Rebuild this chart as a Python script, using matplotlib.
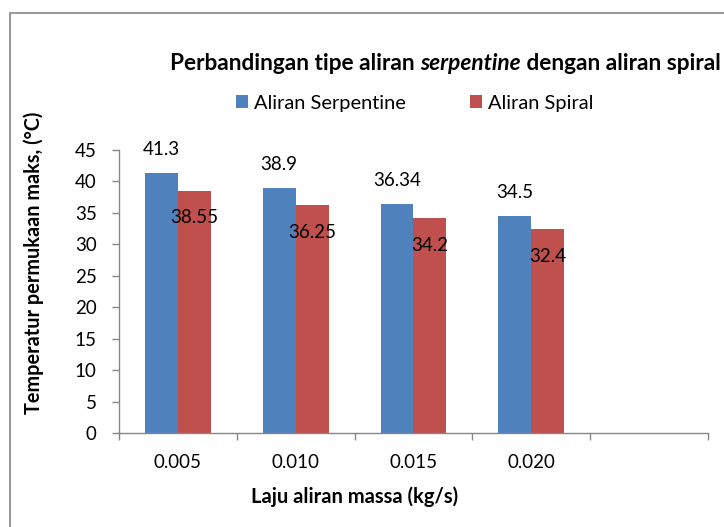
import matplotlib.pyplot as plt
from matplotlib.patches import Rectangle
import numpy as np

# data
kategori = ["0.005", "0.010", "0.015", "0.020", ""]
serpentine = [41.3, 38.9, 36.34, 34.5]
spiral = [38.55, 36.25, 34.2, 32.4]
yticks = [0, 5, 10, 15, 20, 25, 30, 35, 40, 45]

biru = "#4F81BD"
merah = "#C0504D"
abu = "#868686"

plt.rcParams['font.family'] = ['Lato', 'DejaVu Sans']

W, H = 724, 527
fig = plt.figure(figsize=(W / 100, H / 100), dpi=100)

def fx(px):
    return px / W

def fy(py):
    return 1 - py / H

# border around chart area
fig.patches.append(Rectangle((fx(9.5), fy(540)), 1.0, fy(13) - fy(540),
                             transform=fig.transFigure, fill=False,
                             edgecolor=abu, linewidth=1.2))

ax = fig.add_axes([fx(119), fy(433), fx(708) - fx(119), fy(150) - fy(433)])

x = np.arange(len(serpentine))
w = 0.28
ax.bar(x - w / 2, serpentine, w, color=biru, label="Aliran Serpentine")
ax.bar(x + w / 2, spiral, w, color=merah, label="Aliran Spiral")

fs = 13.5
for xi, v in zip(x - w / 2, serpentine):
    ax.annotate(f"{v:g}", (xi, v), xytext=(0, 17), textcoords="offset points",
                ha="center", va="center", fontsize=fs)
for xi, v in zip(x + w / 2, spiral):
    ax.annotate(f"{v:g}", (xi, v), xytext=(0, -19.5), textcoords="offset points",
                ha="center", va="center", fontsize=fs)

ax.set_xlim(-0.5, len(kategori) - 0.5)
ax.set_ylim(0, 45)
ax.set_yticks(yticks)
ax.set_xticks(np.arange(len(kategori)))
ax.set_xticklabels(kategori)
ax.set_xticks(np.arange(len(kategori) + 1) - 0.5, minor=True)
ax.tick_params(axis="x", which="major", length=0, pad=15, labelsize=fs)
ax.tick_params(axis="x", which="minor", length=5, color=abu, width=1)
ax.tick_params(axis="y", length=5, color=abu, width=1, pad=11, labelsize=fs)

for s in ["top", "right"]:
    ax.spines[s].set_visible(False)
for s in ["left", "bottom"]:
    ax.spines[s].set_color(abu)
    ax.spines[s].set_linewidth(1)

fig.text(fx(34), fy(263), "Temperatur permukaan maks, (°C)", rotation=90,
         ha="center", va="center", fontsize=14.3, fontweight="bold")
fig.text(fx(355), fy(497), "Laju aliran massa (kg/s)",
         ha="center", va="center", fontsize=14.5, fontweight="bold")

ax.legend(loc="center left", bbox_to_anchor=(fx(218), fy(103)), bbox_transform=fig.transFigure,
          ncol=2, frameon=False, fontsize=14.4, handlelength=0.6, handleheight=0.6,
          columnspacing=3.2, handletextpad=0.3)

# title with italic word
bagian = [("Perbandingan tipe aliran ", "normal"), ("serpentine", "italic"),
          (" dengan aliran spiral", "normal")]
fig.canvas.draw()
r = fig.canvas.get_renderer()
xpos = 170
for teks, gaya in bagian:
    t = fig.text(fx(xpos), fy(63), teks, ha="left", va="center", fontsize=16.3,
                 fontweight="bold", fontstyle=gaya)
    xpos += t.get_window_extent(r).width

fig.savefig("out.png", dpi=100)
